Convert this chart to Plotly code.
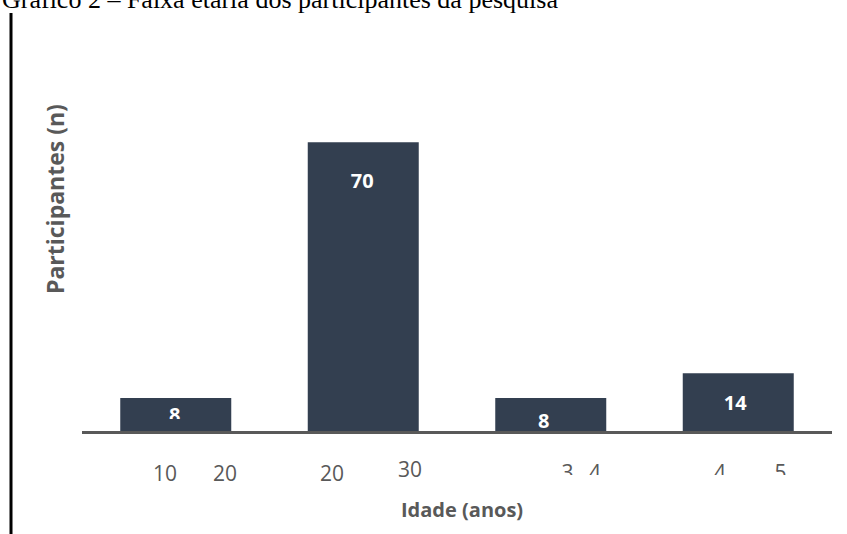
import plotly.graph_objects as go

# Data
age_lo = ["10", "20", "3", "4"]
age_hi = ["20", "30", "4", "5"]
participants = [8, 70, 8, 14]

title_text = "Gráfico 2 – Faixa etária dos participantes da pesquisa"
y_title = "Participantes (n)"
x_title = "Idade (anos)"

# Page geometry (pixels); the paper spans the whole page
W, H = 847, 534
PLOT_L, PLOT_R, PLOT_T, PLOT_B = 82, 832, 101, 431
Y_MAX = 80
SCALE = (PLOT_B - PLOT_T) / Y_MAX          # px per participant
CAT_W = (PLOT_R - PLOT_L) / len(participants)

BAR = "#333F50"
GREY = "#595959"

# label offsets relative to each bar (px)
val_dx = [-1, -1, -7, -3]
val_dy = [19, 41, 24.5, 31.5]
lo_dx = [-10.75, -31.25, 16.75, -18.25]
hi_dx = [49.25, 46.75, 44.25, 42.25]
lo_py = [476, 475.5, 474.5, 474.5]
hi_py = [476, 472, 474.5, 474.5]
band_clip = [505, 505, 475, 475]           # lower edge of each age-label strip

xs = list(range(len(participants)))


def px_x(px):
    return px / W


def px_y(py):
    return 1 - py / H


x_dom = [px_x(PLOT_L), px_x(PLOT_R)]
x_rng = [-0.5, len(participants) - 0.5]

fig = go.Figure()
fig.add_trace(go.Bar(
    x=xs, y=participants, width=0.592,
    marker=dict(color=BAR, line=dict(width=0)),
    hoverinfo="skip", showlegend=False,
))

# value labels inside the bars
fig.add_trace(go.Scatter(
    x=[i + val_dx[i] / CAT_W for i in xs],
    y=[v - val_dy[i] / SCALE for i, v in enumerate(participants)],
    mode="text", text=[str(v) for v in participants],
    textfont=dict(family="Open Sans", size=20, color="white", weight="bold"),
    textposition="middle center", cliponaxis=False,
    hoverinfo="skip", showlegend=False,
))

layout_axes = {}
# age band labels, each in its own strip below the axis (y measured in px)
for i in xs:
    k = i + 2
    fig.add_trace(go.Scatter(
        x=[i + lo_dx[i] / CAT_W, i + hi_dx[i] / CAT_W],
        y=[lo_py[i], hi_py[i]],
        mode="text", text=[age_lo[i], age_hi[i]],
        textfont=dict(family="Open Sans", size=21, color=GREY),
        textposition="middle center", cliponaxis=True,
        xaxis=f"x{k}", yaxis=f"y{k}",
        hoverinfo="skip", showlegend=False,
    ))
    layout_axes[f"xaxis{k}"] = dict(
        domain=x_dom, range=x_rng, anchor=f"y{k}", visible=False,
        fixedrange=True)
    layout_axes[f"yaxis{k}"] = dict(
        domain=[px_y(band_clip[i]), px_y(440)], range=[band_clip[i], 440],
        anchor=f"x{k}", visible=False, fixedrange=True)

shapes = [
    # left frame rule
    dict(type="line", xref="paper", yref="paper",
         x0=px_x(11), x1=px_x(11), y0=px_y(13), y1=px_y(540),
         line=dict(color="black", width=3)),
    # trimmed lower part of the first value label
    dict(type="rect", xref="paper", yref="paper", layer="above",
         x0=px_x(160), x1=px_x(190), y0=px_y(419), y1=px_y(429),
         fillcolor=BAR, line=dict(width=0)),
]

annotations = [
    dict(text=title_text, xref="paper", yref="paper",
         x=px_x(0), y=px_y(-1), xanchor="left", yanchor="middle",
         showarrow=False,
         font=dict(family="Liberation Serif", size=26, color="black")),
    dict(text=y_title, xref="paper", yref="paper",
         x=px_x(55), y=px_y(199), xanchor="center", yanchor="middle",
         textangle=-90, showarrow=False,
         font=dict(family="Open Sans", size=23, color=GREY, weight="bold")),
    dict(text=x_title, xref="paper", yref="paper",
         x=px_x(462), y=px_y(509), xanchor="center", yanchor="middle",
         showarrow=False,
         font=dict(family="Open Sans", size=20, color=GREY, weight="bold")),
]

fig.update_layout(
    width=W, height=H,
    margin=dict(l=0, r=0, t=0, b=0, pad=0),
    paper_bgcolor="white", plot_bgcolor="rgba(0,0,0,0)",
    shapes=shapes, annotations=annotations,
    xaxis=dict(domain=x_dom, range=x_rng, showgrid=False,
               zeroline=False, showticklabels=False, ticks="",
               showline=True, linecolor=GREY, linewidth=3, fixedrange=True),
    yaxis=dict(domain=[px_y(PLOT_B), px_y(PLOT_T)], range=[0, Y_MAX],
               showgrid=False, zeroline=False, showticklabels=False,
               ticks="", showline=False, fixedrange=True),
    **layout_axes,
)

fig.write_html("out.html", config={"displayModeBar": False})
